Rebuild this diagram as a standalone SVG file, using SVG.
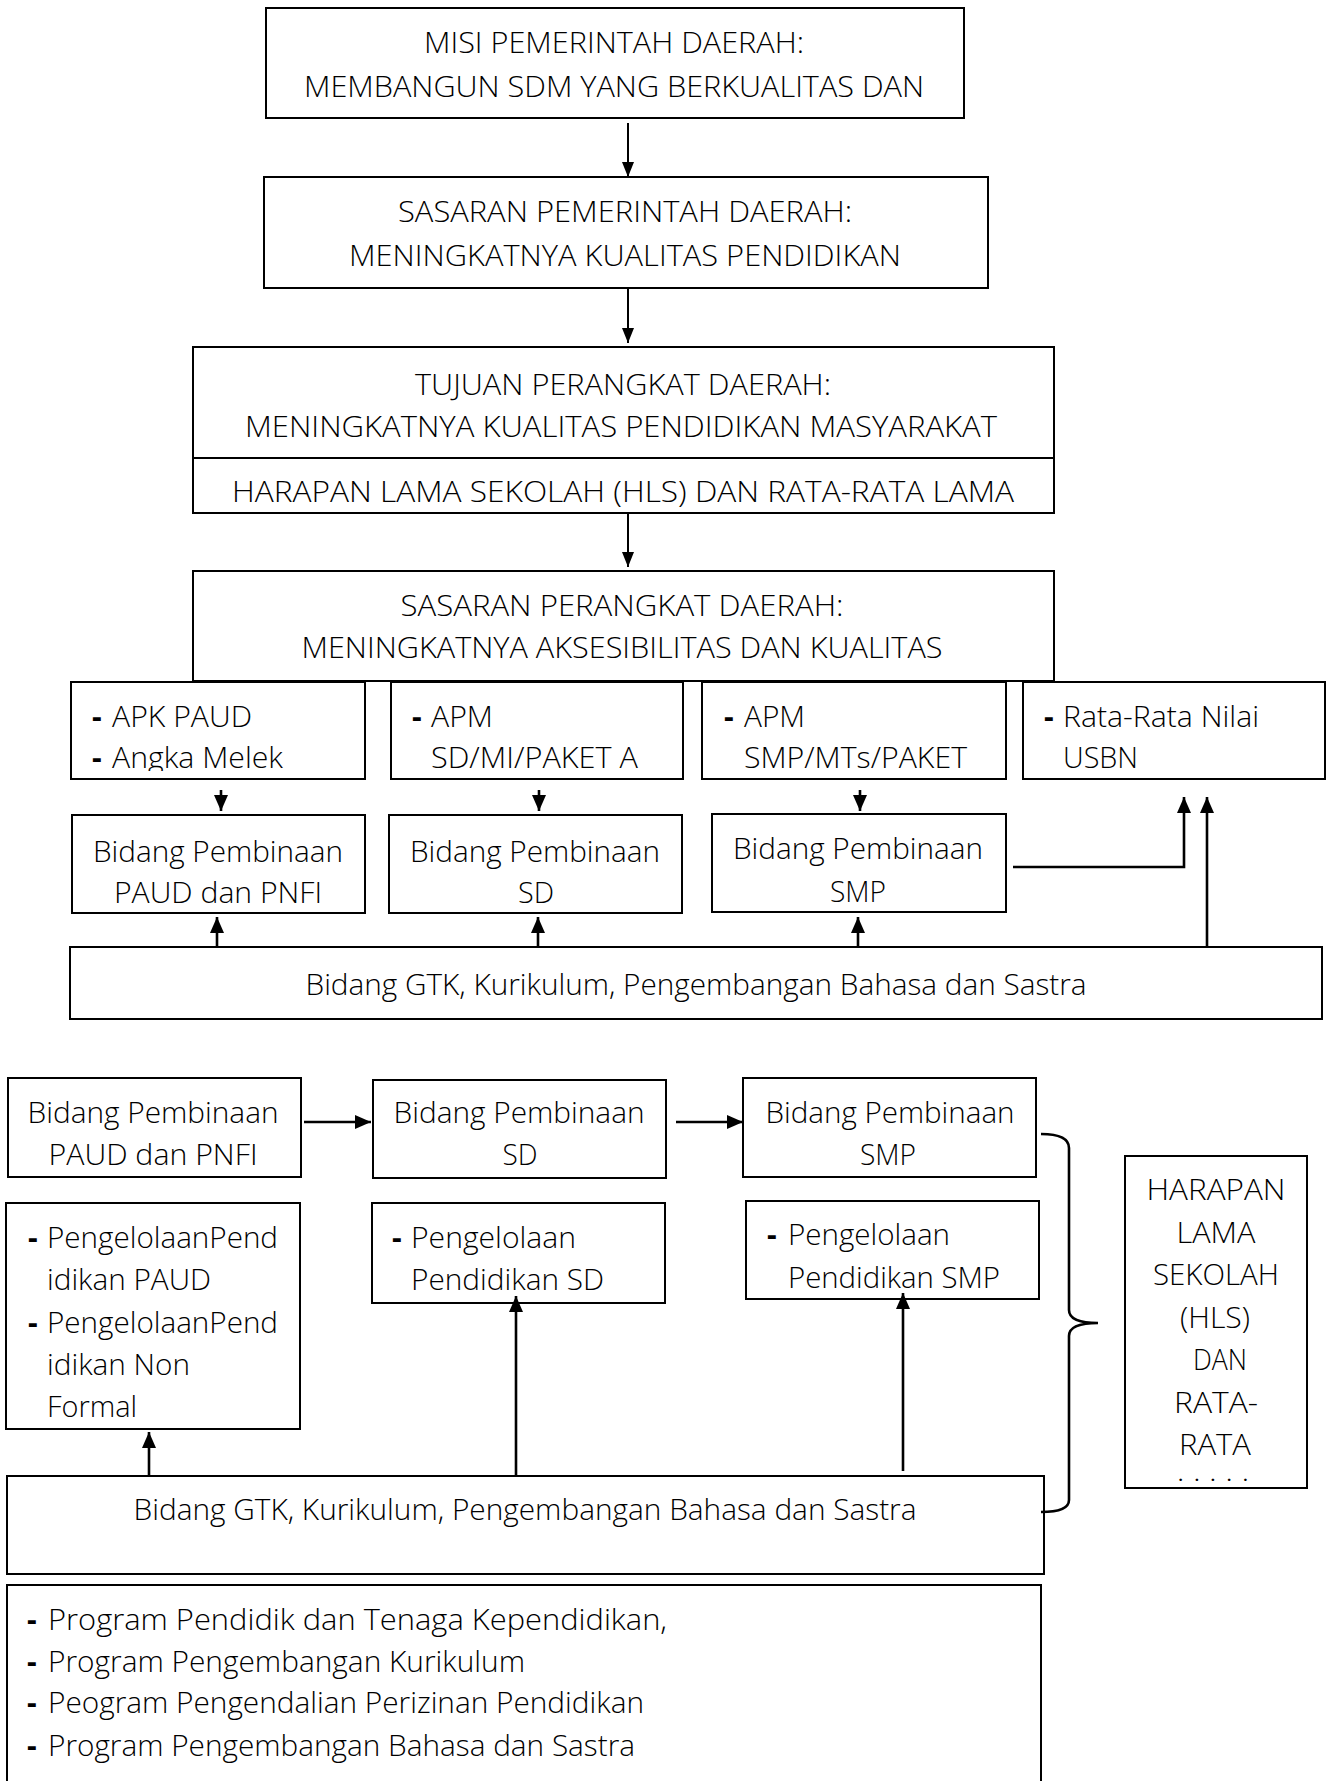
<svg xmlns="http://www.w3.org/2000/svg" width="1336" height="1781" viewBox="0 0 1336 1781">
  <style>
    .box { fill: #fff; stroke: #000; stroke-width: 2; }
    .t { font-family: "Open Sans", "Noto Sans", "Liberation Sans", sans-serif; font-size: 30px; font-weight: 300; fill: #000; }
    .c { text-anchor: middle; }
    .d { font-weight: 700; }
    .dots { font-size: 15px; font-weight: 700; letter-spacing: 4px; }
    .ln { fill: none; stroke: #000; stroke-width: 2; }
    .lnb { fill: none; stroke: #000; stroke-width: 2.6; }
  </style>
  <defs>
    <marker id="head" viewBox="0 0 15 12" refX="15" refY="6" markerWidth="15" markerHeight="12" markerUnits="userSpaceOnUse" orient="auto">
      <path d="M0,0 L15,6 L0,12 z" fill="#000"/>
    </marker>
    <marker id="headB" viewBox="0 0 16 14" refX="16" refY="7" markerWidth="16" markerHeight="14" markerUnits="userSpaceOnUse" orient="auto">
      <path d="M0,0 L16,7 L0,14 z" fill="#000"/>
    </marker>
    <clipPath id="clipRow1"><rect x="0" y="682" width="1336" height="89"/></clipPath>
    <clipPath id="clipSmp"><rect x="712" y="815" width="294" height="88"/></clipPath>
    <clipPath id="clipHls"><rect x="1125" y="1156" width="182" height="327"/></clipPath>
  </defs>

  <!-- upper chain -->
  <g id="misi">
    <rect class="box" x="266" y="8" width="698" height="110"/>
    <text class="t c" x="614" y="53" textLength="380" lengthAdjust="spacingAndGlyphs">MISI PEMERINTAH DAERAH:</text>
    <text class="t c" x="614" y="97" textLength="620" lengthAdjust="spacingAndGlyphs">MEMBANGUN SDM YANG BERKUALITAS DAN</text>
  </g>
  <g id="sasaran-pemda">
    <rect class="box" x="264" y="177" width="724" height="111"/>
    <text class="t c" x="625" y="222" textLength="454" lengthAdjust="spacingAndGlyphs">SASARAN PEMERINTAH DAERAH:</text>
    <text class="t c" x="625" y="266" textLength="552" lengthAdjust="spacingAndGlyphs">MENINGKATNYA KUALITAS PENDIDIKAN</text>
  </g>
  <g id="tujuan-pd">
    <rect class="box" x="193" y="347" width="861" height="166"/>
    <line class="ln" x1="193" y1="458" x2="1054" y2="458" stroke-width="3"/>
    <text class="t c" x="623" y="395" textLength="416" lengthAdjust="spacingAndGlyphs">TUJUAN PERANGKAT DAERAH:</text>
    <text class="t c" x="621" y="437" textLength="752" lengthAdjust="spacingAndGlyphs">MENINGKATNYA KUALITAS PENDIDIKAN MASYARAKAT</text>
    <text class="t c" x="623" y="502" textLength="782" lengthAdjust="spacingAndGlyphs">HARAPAN LAMA SEKOLAH (HLS) DAN RATA-RATA LAMA</text>
  </g>
  <g id="sasaran-pd">
    <rect class="box" x="193" y="571" width="861" height="110"/>
    <text class="t c" x="622" y="616" textLength="443" lengthAdjust="spacingAndGlyphs">SASARAN PERANGKAT DAERAH:</text>
    <text class="t c" x="622" y="658" textLength="641" lengthAdjust="spacingAndGlyphs">MENINGKATNYA AKSESIBILITAS DAN KUALITAS</text>
  </g>

  <!-- indicator row -->
  <g id="ind-paud">
    <rect class="box" x="71" y="682" width="294" height="97"/>
    <g clip-path="url(#clipRow1)">
      <text class="t d" x="92" y="727">-</text>
      <text class="t" x="112" y="727" textLength="140" lengthAdjust="spacingAndGlyphs">APK PAUD</text>
      <text class="t d" x="92" y="768">-</text>
      <text class="t" x="112" y="768" textLength="171" lengthAdjust="spacingAndGlyphs">Angka Melek</text>
    </g>
  </g>
  <g id="ind-sd">
    <rect class="box" x="391" y="682" width="292" height="97"/>
    <g clip-path="url(#clipRow1)">
      <text class="t d" x="412" y="727">-</text>
      <text class="t" x="431" y="727" textLength="62" lengthAdjust="spacingAndGlyphs">APM</text>
      <text class="t" x="431" y="768" textLength="207" lengthAdjust="spacingAndGlyphs">SD/MI/PAKET A</text>
    </g>
  </g>
  <g id="ind-smp">
    <rect class="box" x="702" y="682" width="304" height="97"/>
    <g clip-path="url(#clipRow1)">
      <text class="t d" x="724" y="727">-</text>
      <text class="t" x="744" y="727" textLength="61" lengthAdjust="spacingAndGlyphs">APM</text>
      <text class="t" x="744" y="768" textLength="223" lengthAdjust="spacingAndGlyphs">SMP/MTs/PAKET</text>
    </g>
  </g>
  <g id="ind-usbn">
    <rect class="box" x="1023" y="682" width="302" height="97"/>
    <g clip-path="url(#clipRow1)">
      <text class="t d" x="1044" y="727">-</text>
      <text class="t" x="1063" y="727" textLength="196" lengthAdjust="spacingAndGlyphs">Rata-Rata Nilai</text>
      <text class="t" x="1063" y="768" textLength="75" lengthAdjust="spacingAndGlyphs">USBN</text>
    </g>
  </g>

  <!-- bidang row (upper) -->
  <g id="bid-paud">
    <rect class="box" x="72" y="815" width="293" height="98"/>
    <text class="t c" x="218" y="862" textLength="250" lengthAdjust="spacingAndGlyphs">Bidang Pembinaan</text>
    <text class="t c" x="218" y="903" textLength="208" lengthAdjust="spacingAndGlyphs">PAUD dan PNFI</text>
  </g>
  <g id="bid-sd">
    <rect class="box" x="389" y="815" width="293" height="98"/>
    <text class="t c" x="535" y="862" textLength="250" lengthAdjust="spacingAndGlyphs">Bidang Pembinaan</text>
    <text class="t c" x="536" y="903" textLength="36" lengthAdjust="spacingAndGlyphs">SD</text>
  </g>
  <g id="bid-smp">
    <rect class="box" x="712" y="814" width="294" height="98"/>
    <g clip-path="url(#clipSmp)">
      <text class="t c" x="858" y="859" textLength="250" lengthAdjust="spacingAndGlyphs">Bidang Pembinaan</text>
      <text class="t c" x="858" y="902" textLength="56" lengthAdjust="spacingAndGlyphs">SMP</text>
    </g>
  </g>
  <g id="bid-gtk">
    <rect class="box" x="70" y="947" width="1252" height="72"/>
    <text class="t c" x="696" y="995" textLength="781" lengthAdjust="spacingAndGlyphs">Bidang GTK, Kurikulum, Pengembangan Bahasa dan Sastra</text>
  </g>

  <!-- lower section -->
  <g id="low-paud">
    <rect class="box" x="8" y="1078" width="293" height="99"/>
    <text class="t c" x="153" y="1123" textLength="251" lengthAdjust="spacingAndGlyphs">Bidang Pembinaan</text>
    <text class="t c" x="153" y="1165" textLength="209" lengthAdjust="spacingAndGlyphs">PAUD dan PNFI</text>
  </g>
  <g id="low-sd">
    <rect class="box" x="373" y="1080" width="293" height="98"/>
    <text class="t c" x="519" y="1123" textLength="251" lengthAdjust="spacingAndGlyphs">Bidang Pembinaan</text>
    <text class="t c" x="520" y="1165" textLength="35" lengthAdjust="spacingAndGlyphs">SD</text>
  </g>
  <g id="low-smp">
    <rect class="box" x="743" y="1078" width="293" height="99"/>
    <text class="t c" x="890" y="1123" textLength="249" lengthAdjust="spacingAndGlyphs">Bidang Pembinaan</text>
    <text class="t c" x="888" y="1165" textLength="56" lengthAdjust="spacingAndGlyphs">SMP</text>
  </g>
  <g id="keg-paud">
    <rect class="box" x="6" y="1203" width="294" height="226"/>
    <text class="t d" x="28" y="1248">-</text>
    <text class="t" x="47" y="1248" textLength="231" lengthAdjust="spacingAndGlyphs">PengelolaanPend</text>
    <text class="t" x="47" y="1290" textLength="164" lengthAdjust="spacingAndGlyphs">idikan PAUD</text>
    <text class="t d" x="28" y="1333">-</text>
    <text class="t" x="47" y="1333" textLength="231" lengthAdjust="spacingAndGlyphs">PengelolaanPend</text>
    <text class="t" x="47" y="1375" textLength="143" lengthAdjust="spacingAndGlyphs">idikan Non</text>
    <text class="t" x="47" y="1417" textLength="90" lengthAdjust="spacingAndGlyphs">Formal</text>
  </g>
  <g id="keg-sd">
    <rect class="box" x="372" y="1203" width="293" height="100"/>
    <text class="t d" x="392" y="1248">-</text>
    <text class="t" x="411" y="1248" textLength="165" lengthAdjust="spacingAndGlyphs">Pengelolaan</text>
    <text class="t" x="411" y="1290" textLength="193" lengthAdjust="spacingAndGlyphs">Pendidikan SD</text>
  </g>
  <g id="keg-smp">
    <rect class="box" x="746" y="1201" width="293" height="98"/>
    <text class="t d" x="767" y="1245">-</text>
    <text class="t" x="788" y="1245" textLength="162" lengthAdjust="spacingAndGlyphs">Pengelolaan</text>
    <text class="t" x="788" y="1288" textLength="212" lengthAdjust="spacingAndGlyphs">Pendidikan SMP</text>
  </g>
  <g id="low-gtk">
    <rect class="box" x="7" y="1476" width="1037" height="98"/>
    <text class="t c" x="525" y="1520" textLength="783" lengthAdjust="spacingAndGlyphs">Bidang GTK, Kurikulum, Pengembangan Bahasa dan Sastra</text>
  </g>
  <g id="program">
    <rect class="box" x="7" y="1585" width="1034" height="220"/>
    <text class="t d" x="27" y="1630">-</text>
    <text class="t" x="48" y="1630" textLength="619" lengthAdjust="spacingAndGlyphs">Program  Pendidik dan  Tenaga Kependidikan,</text>
    <text class="t d" x="27" y="1672">-</text>
    <text class="t" x="48" y="1672" textLength="477" lengthAdjust="spacingAndGlyphs">Program Pengembangan Kurikulum</text>
    <text class="t d" x="27" y="1713">-</text>
    <text class="t" x="48" y="1713" textLength="596" lengthAdjust="spacingAndGlyphs">Peogram Pengendalian Perizinan Pendidikan</text>
    <text class="t d" x="27" y="1756">-</text>
    <text class="t" x="48" y="1756" textLength="587" lengthAdjust="spacingAndGlyphs">Program Pengembangan Bahasa dan Sastra</text>
  </g>
  <g id="hls">
    <rect class="box" x="1125" y="1156" width="182" height="332"/>
    <g clip-path="url(#clipHls)">
      <text class="t c" x="1216" y="1200" textLength="139" lengthAdjust="spacingAndGlyphs">HARAPAN</text>
      <text class="t c" x="1216" y="1243" textLength="79" lengthAdjust="spacingAndGlyphs">LAMA</text>
      <text class="t c" x="1216" y="1285" textLength="126" lengthAdjust="spacingAndGlyphs">SEKOLAH</text>
      <text class="t c" x="1215" y="1328" textLength="70" lengthAdjust="spacingAndGlyphs">(HLS)</text>
      <text class="t c" x="1220" y="1370" textLength="54" lengthAdjust="spacingAndGlyphs">DAN</text>
      <text class="t c" x="1216" y="1413" textLength="84" lengthAdjust="spacingAndGlyphs">RATA-</text>
      <text class="t c" x="1215" y="1455" textLength="72" lengthAdjust="spacingAndGlyphs">RATA</text>
      <text class="t c dots" x="1215" y="1481">. . . . .</text>
    </g>
  </g>

  <!-- connectors -->
  <g id="connectors">
    <line class="ln" x1="628" y1="123" x2="628" y2="177" marker-end="url(#head)"/>
    <line class="ln" x1="628" y1="288" x2="628" y2="343" marker-end="url(#head)"/>
    <line class="ln" x1="628" y1="513" x2="628" y2="567" marker-end="url(#head)"/>

    <line class="lnb" x1="221" y1="790" x2="221" y2="811" marker-end="url(#headB)"/>
    <line class="lnb" x1="539" y1="790" x2="539" y2="811" marker-end="url(#headB)"/>
    <line class="lnb" x1="860" y1="790" x2="860" y2="811" marker-end="url(#headB)"/>

    <line class="lnb" x1="217" y1="946" x2="217" y2="917" marker-end="url(#headB)"/>
    <line class="lnb" x1="538" y1="946" x2="538" y2="917" marker-end="url(#headB)"/>
    <line class="lnb" x1="858" y1="946" x2="858" y2="917" marker-end="url(#headB)"/>

    <polyline class="lnb" points="1013,867 1184,867 1184,797" marker-end="url(#headB)"/>
    <line class="lnb" x1="1207" y1="946" x2="1207" y2="797" marker-end="url(#headB)"/>

    <line class="lnb" x1="304" y1="1122" x2="371" y2="1122" marker-end="url(#headB)"/>
    <line class="lnb" x1="676" y1="1122" x2="743" y2="1122" marker-end="url(#headB)"/>

    <line class="lnb" x1="149" y1="1476" x2="149" y2="1432" marker-end="url(#headB)"/>
    <line class="lnb" x1="516" y1="1476" x2="516" y2="1296" marker-end="url(#headB)"/>
    <line class="lnb" x1="903" y1="1471" x2="903" y2="1293" marker-end="url(#headB)"/>

    <path class="lnb" d="M1041,1134 Q1069,1134 1069,1148 L1069,1310 Q1069,1323 1098,1323 Q1069,1323 1069,1336 L1069,1500 Q1069,1512 1041,1512"/>
  </g>
</svg>
